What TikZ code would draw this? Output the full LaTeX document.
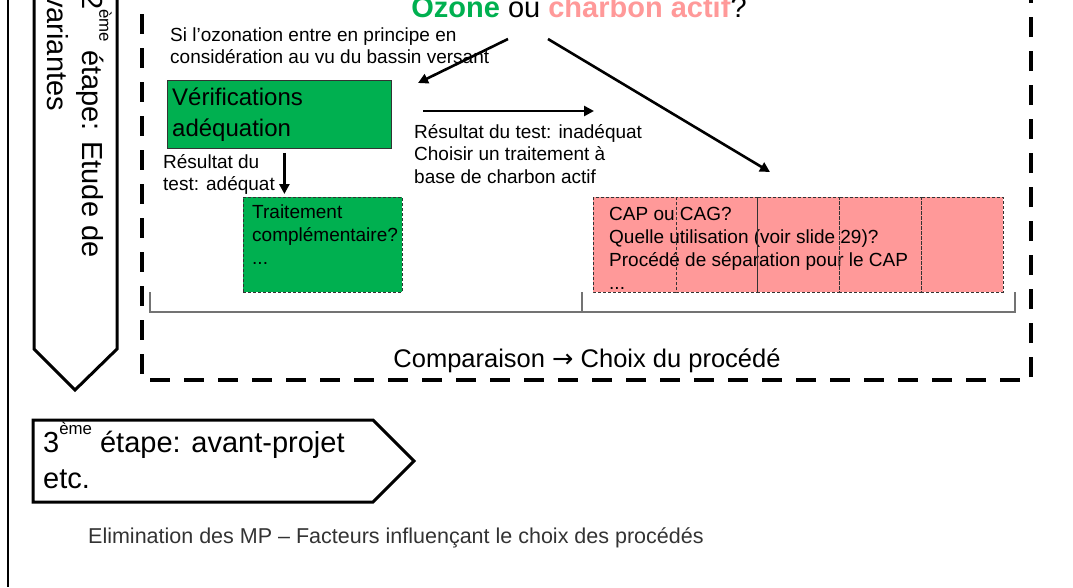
\documentclass[tikz,border=0pt]{standalone}
\usepackage{fontspec}
\setmainfont{Liberation Sans}
\newfontfamily\arrowfont{DejaVu Sans}
\usepackage{xcolor}
\usetikzlibrary{arrows.meta}
\definecolor{ozgreen}{RGB}{0,176,80}
\definecolor{cappink}{RGB}{255,153,153}
\newcommand{\expo}[1]{\raisebox{.6em}{\scalebox{.58}{#1}}}

\begin{document}
\begin{tikzpicture}[x=1pt, y=-1pt, >={Triangle[length=10pt,width=10pt]},
    txt/.style={anchor=base west, inner sep=0pt, align=left, font=\fontsize{19}{23}\selectfont},
    big/.style={anchor=base west, inner sep=0pt, align=left, font=\fontsize{29}{35}\selectfont},
    fleche/.style={->, line width=2.6pt},
    boite/.style={line width=0.8pt, draw=black!80, dash pattern=on 3pt off 2pt}]
    \useasboundingbox (0,0) rectangle (1073,587);
    \draw [line width=2pt] (8,0) -- (8,587);
    % cadre de l'etape 2
    \draw [line width=4.5pt, dash pattern=on 20pt off 14pt] (142,-20) -- (142,380) -- (1031,380) -- (1031,-20);
    \draw [line width=3pt, fill=white] (34,-10) -- (34,349) -- (75,390) -- (117,349) -- (117,-10);
    \node (etape2) [big, rotate=-90] at (47,-7) {2\expo{ème} étape: Etude de\\variantes};
    \draw [line width=3pt] (33,420) -- (373,420) -- (414,461) -- (373,502) -- (33,502) -- cycle;
    \node (etape3) [big, font=\fontsize{29}{36}\selectfont] at (43,488) {3\expo{ème} étape: avant-projet\\etc.};

    \node (titre) [anchor=base, inner sep=0pt, font=\fontsize{29}{35}\selectfont] at (579,17)
        {\textcolor{ozgreen}{\textbf{Ozone}} ou \textcolor{cappink}{\textbf{charbon actif}}?};
    \node (bassin) [txt, font=\fontsize{19}{22}\selectfont] at (170,63) {Si l’ozonation entre en principe en\\considération au vu du bassin versant};

    \node (verif) [draw=black!80, line width=0.8pt, fill=ozgreen, minimum width=224pt, minimum height=68pt,
        anchor=north west, inner sep=0pt] at (167,80) {};
    \node (veriftxt) [txt, font=\fontsize{24}{31}\selectfont] at (172,136) {Vérifications\\adéquation};
    \node (adequat) [txt, font=\fontsize{19}{22}\selectfont] at (163,190) {Résultat du\\test: adéquat};
    \node (inadequat) [txt, font=\fontsize{19}{22.5}\selectfont] at (414,183) {Résultat du test: inadéquat\\Choisir un traitement à\\base de charbon actif};

    \node (trait) [boite, fill=ozgreen, minimum width=159pt, minimum height=95pt, anchor=north west, inner sep=0pt] at (243,197) {};
    \node (traittxt) [txt] at (252,264) {Traitement\\complémentaire?\\...};

    % variantes charbon actif
    \fill [cappink] (593,197) rectangle (1003,292);
    \node (cap) [txt] at (609,289) {CAP ou CAG?\\Quelle utilisation (voir slide 29)?\\Procédé de séparation pour le CAP\\...};
    \foreach \xa/\xb in {593/676, 676/757, 757/839, 839/921, 921/1003}
        \draw [boite] (\xa,197) rectangle (\xb,292);

    \draw [black!55, line width=1.2pt] (150,292) -- (150,312) -- (1015,312) -- (1015,292);
    \draw [black!55, line width=1.2pt] (582,292) -- (582,312);
    \node (compar) [anchor=base, inner sep=0pt, font=\fontsize{25.5}{30}\selectfont] at (587,367)
        {Comparaison {\arrowfont →} Choix du procédé};

    \node (pied) [anchor=base west, inner sep=0pt, text=black!80, font=\fontsize{21.5}{25}\selectfont] at (88,543)
        {Elimination des MP – Facteurs influençant le choix des procédés};

    % fleches
    \coordinate (ozA) at (508,39);
    \coordinate (ozB) at (418,83);
    \coordinate (caA) at (548,39);
    \coordinate (caB) at (770,172);
    \coordinate (inA) at (423,111);
    \coordinate (inB) at (594,111);
    \draw [fleche] (ozA) -- (ozB);
    \draw [fleche] (caA) -- (caB);
    \draw [fleche] (inA) -- (inB);
    \draw [fleche] ([xshift=5pt, yshift=-4pt]verif.south) -- ([xshift=5pt, yshift=3pt]verif.south |- trait.north);
\end{tikzpicture}
\end{document}
